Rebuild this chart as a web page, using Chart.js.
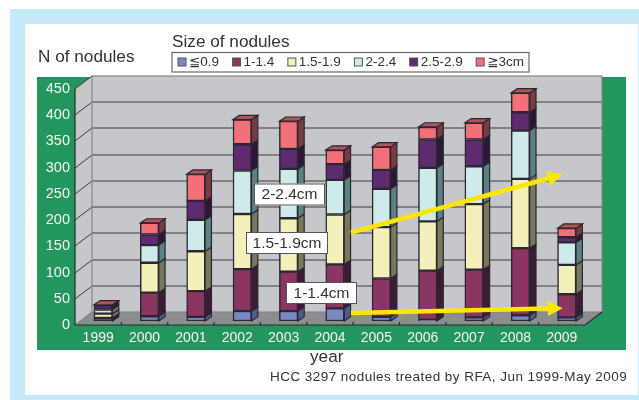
<!DOCTYPE html>
<html lang="en">
<head>
  <meta charset="UTF-8">
  <title>HCC nodules treated by RFA</title>
  <style>
    body { margin: 0; background: #fff; }
    canvas { display: block; }
  </style>
</head>
<body>
  <canvas id="nodules" width="639" height="400"></canvas>
  <script src="https://cdn.jsdelivr.net/npm/chart.js@4/dist/chart.umd.min.js"></script>
  <script>
    // DATA
    const years = ["1999", "2000", "2001", "2002", "2003", "2004", "2005", "2006", "2007", "2008", "2009"];
    const sizeLabels = ["≦0.9", "1-1.4", "1.5-1.9", "2-2.4", "2.5-2.9", "≧3cm"];
    const under1 = [0, 9, 8, 19, 19, 24, 8, 2, 7, 11, 7];
    const from1 = [6, 45, 49, 80, 75, 84, 73, 94, 91, 128, 44];
    const from15 = [8, 57, 76, 105, 102, 95, 98, 94, 125, 132, 56];
    const from2 = [8, 34, 60, 83, 94, 66, 73, 102, 72, 92, 43];
    const from25 = [8, 20, 36, 50, 38, 30, 36, 54, 51, 35, 10];
    const over3 = [1, 22, 51, 47, 53, 27, 44, 24, 32, 37, 17];
    const yTicks = [0, 50, 100, 150, 200, 250, 300, 350, 400, 450];

    // COLOURS (front, side) - top of a bar is only seen on the salmon segment
    const faceColors = ["#7b89c3", "#8a3562", "#f3f0ba", "#cfeaea", "#5e2a70", "#f47078"];
    const sideColors = ["#4d5c94", "#3c1b35", "#77785c", "#5a8283", "#2d1738", "#7b3b42"];
    const topColor = "#b0535a";
    const outline = "#2b2730";
    const gridColor = "#3c3c3e";
    const textColor = "#333";
    const font = "'Liberation Sans', 'DejaVu Sans', sans-serif";

    // Depth of the box the bars stand in, and of the bars themselves
    const wallDepth = { x: 17, y: -13 };
    const barShift = { x: 5, y: -4 };
    const barDepth = { x: 6.3, y: -4.2 };

    function poly(ctx, pts, fill, stroke) {
      ctx.beginPath();
      pts.forEach((p, i) => i ? ctx.lineTo(p[0], p[1]) : ctx.moveTo(p[0], p[1]));
      ctx.closePath();
      if (fill) { ctx.fillStyle = fill; ctx.fill(); }
      if (stroke) { ctx.strokeStyle = stroke; ctx.stroke(); }
    }

    // Page panels, the walls and floor of the 3D box
    const boxPlugin = {
      id: "box",
      beforeDraw(chart) {
        const { ctx, chartArea: a, scales } = chart;
        const d = wallDepth;
        ctx.save();
        ctx.fillStyle = "#c6e9f9";
        ctx.fillRect(10, 9, 629, 391);
        ctx.fillStyle = "#fff";
        ctx.fillRect(25, 24, 613, 371);
        ctx.fillStyle = "#23955f";
        ctx.fillRect(37, 77, 589, 273);

        ctx.lineWidth = 1;
        ctx.fillStyle = "#c6c7ca";
        ctx.fillRect(a.left + d.x, a.top + d.y, a.width, a.height);
        poly(ctx, [[a.left, a.top], [a.left + d.x, a.top + d.y], [a.left + d.x, a.bottom + d.y], [a.left, a.bottom]], "#c6c7ca");
        poly(ctx, [[a.left, a.bottom], [a.right, a.bottom], [a.right + d.x, a.bottom + d.y], [a.left + d.x, a.bottom + d.y]], "#8c8d90");

        // grid runs along the back wall and down the side wall
        yTicks.slice(1, -1).forEach(v => {
          const y = Math.round(scales.y.getPixelForValue(v));
          ctx.strokeStyle = gridColor;
          ctx.beginPath();
          ctx.moveTo(a.left, y);
          ctx.lineTo(a.left + d.x, y + d.y);
          ctx.lineTo(a.right + d.x, y + d.y);
          ctx.stroke();
        });
        ctx.strokeStyle = gridColor;
        ctx.beginPath();
        ctx.moveTo(a.left, a.top);
        ctx.lineTo(a.left + d.x, a.top + d.y);
        ctx.stroke();

        ctx.strokeStyle = "#85868a";
        ctx.lineWidth = 1.2;
        ctx.strokeRect(a.left + d.x, a.top + d.y, a.width, a.height);
        ctx.beginPath();
        ctx.moveTo(a.left, a.bottom);
        ctx.lineTo(a.left + d.x, a.bottom + d.y);
        ctx.stroke();

        // front axis lines and ticks
        ctx.strokeStyle = "#2a2a2c";
        ctx.lineWidth = 1.2;
        ctx.beginPath();
        ctx.moveTo(a.left, a.top);
        ctx.lineTo(a.left, a.bottom);
        ctx.lineTo(a.right, a.bottom);
        ctx.lineTo(a.right + d.x, a.bottom + d.y);
        const step = a.width / years.length;
        for (let i = 1; i < years.length; i++) {
          ctx.moveTo(a.left + i * step, a.bottom);
          ctx.lineTo(a.left + i * step, a.bottom - 3);
        }
        ctx.stroke();
        ctx.restore();
      }
    };

    // Bars are moved into the box, then get their side and top faces
    const depthPlugin = {
      id: "depth",
      beforeDatasetsDraw(chart) {
        chart.ctx.save();
        chart.ctx.translate(barShift.x, barShift.y);
      },
      afterDatasetsDraw(chart) {
        const ctx = chart.ctx;
        const b = barDepth;
        ctx.lineWidth = 1.2;
        years.forEach((year, i) => {
          let last = null;
          chart.data.datasets.forEach((ds, k) => {
            if (!ds.data[i]) return;
            const bar = chart.getDatasetMeta(k).data[i];
            const r = bar.x + bar.width / 2;
            poly(ctx, [[r, bar.base], [r + b.x, bar.base + b.y], [r + b.x, bar.y + b.y], [r, bar.y]], sideColors[k], outline);
            last = bar;
          });
          const l = last.x - last.width / 2;
          const r = last.x + last.width / 2;
          poly(ctx, [[l, last.y], [l + b.x, last.y + b.y], [r + b.x, last.y + b.y], [r, last.y]], topColor, outline);
        });
        ctx.restore();
      }
    };

    // Free text around the chart, the legend strip, callouts and arrows
    const notesPlugin = {
      id: "notes",
      beforeDraw(chart) {
        const ctx = chart.ctx;
        ctx.save();
        ctx.fillStyle = textColor;
        ctx.textBaseline = "middle";
        ctx.font = "17.2px " + font;
        ctx.fillText("N of nodules", 38, 57);
        ctx.fillText("Size of nodules", 172, 42);
        ctx.fillText("year", 310, 357);
        ctx.font = "13.5px " + font;
        ctx.letterSpacing = "0.45px";
        ctx.fillText("HCC 3297 nodules treated by RFA, Jun 1999-May 2009", 270, 377);
        ctx.letterSpacing = "0px";

        ctx.strokeStyle = "#666";
        ctx.lineWidth = 1.2;
        ctx.strokeRect(172, 52.5, 357, 19.5);
        let x = 178;
        sizeLabels.forEach((label, k) => {
          ctx.fillStyle = faceColors[k];
          ctx.fillRect(x, 58, 8, 8);
          ctx.strokeStyle = "#555";
          ctx.lineWidth = 1;
          ctx.strokeRect(x, 58, 8, 8);
          ctx.fillStyle = textColor;
          ctx.fillText(label, x + 11, 62.5);
          x += 11 + ctx.measureText(label).width + 13.5;
        });
        ctx.restore();
      },
      afterDraw(chart) {
        const ctx = chart.ctx;
        const { x, y } = chart.scales;
        ctx.save();
        arrow(ctx, x.getPixelForValue(5.45), y.getPixelForValue(176), x.getPixelForValue(10.02), y.getPixelForValue(287));
        arrow(ctx, x.getPixelForValue(5.45), y.getPixelForValue(23), x.getPixelForValue(10.02), y.getPixelForValue(32));
        callout(ctx, "2-2.4cm", 254, 183.5, 71, 22);
        callout(ctx, "1.5-1.9cm", 246, 232, 82, 22);
        callout(ctx, "1-1.4cm", 286, 282, 71, 22);
        ctx.restore();
      }
    };

    function arrow(ctx, x0, y0, x1, y1) {
      const t = Math.atan2(y1 - y0, x1 - x0);
      const headLen = 15;
      const bx = x1 - headLen * Math.cos(t);
      const by = y1 - headLen * Math.sin(t);
      ctx.strokeStyle = "#ffe600";
      ctx.lineWidth = 4.5;
      ctx.beginPath();
      ctx.moveTo(x0, y0);
      ctx.lineTo(bx, by);
      ctx.stroke();
      const nx = -Math.sin(t) * 7.5;
      const ny = Math.cos(t) * 7.5;
      poly(ctx, [[x1, y1], [bx + nx, by + ny], [bx - nx, by - ny]], "#ffe600");
    }

    function callout(ctx, text, x, y, w, h) {
      ctx.fillStyle = "#fff";
      ctx.fillRect(x, y, w, h);
      ctx.strokeStyle = "#555";
      ctx.lineWidth = 1;
      ctx.strokeRect(x + 0.5, y + 0.5, w - 1, h - 1);
      ctx.fillStyle = textColor;
      ctx.font = "15.5px " + font;
      ctx.textAlign = "center";
      ctx.textBaseline = "middle";
      ctx.fillText(text, x + w / 2, y + h / 2 + 0.5);
    }

    const seriesValues = [under1, from1, from15, from2, from25, over3];

    new Chart("nodules", {
      type: "bar",
      data: {
        labels: years,
        datasets: sizeLabels.map((label, k) => ({
          label: label,
          data: seriesValues[k],
          backgroundColor: faceColors[k],
          borderColor: outline,
          borderWidth: 1.5,
          borderSkipped: false,
          barThickness: 18.5
        }))
      },
      options: {
        responsive: false,
        animation: false,
        layout: { padding: { left: 0, right: 54, top: 89, bottom: 35 } },
        scales: {
          x: {
            stacked: true,
            afterFit: s => { s.height = 40; },
            grid: { display: false, drawTicks: false },
            border: { display: false },
            ticks: { color: "#f2f6f0", font: { family: font, size: 14 }, padding: 5, maxRotation: 0, autoSkip: false }
          },
          y: {
            stacked: true,
            min: 0,
            max: 450,
            afterFit: s => { s.width = 75; },
            afterBuildTicks: s => { s.ticks = yTicks.map(v => ({ value: v })); },
            grid: { display: false, drawTicks: false },
            border: { display: false },
            ticks: { color: "#f2f6f0", font: { family: font, size: 14.5 }, padding: 5 }
          }
        },
        plugins: {
          tooltip: { enabled: false },
          legend: { display: false }
        }
      },
      plugins: [boxPlugin, depthPlugin, notesPlugin]
    });
  </script>
</body>
</html>
